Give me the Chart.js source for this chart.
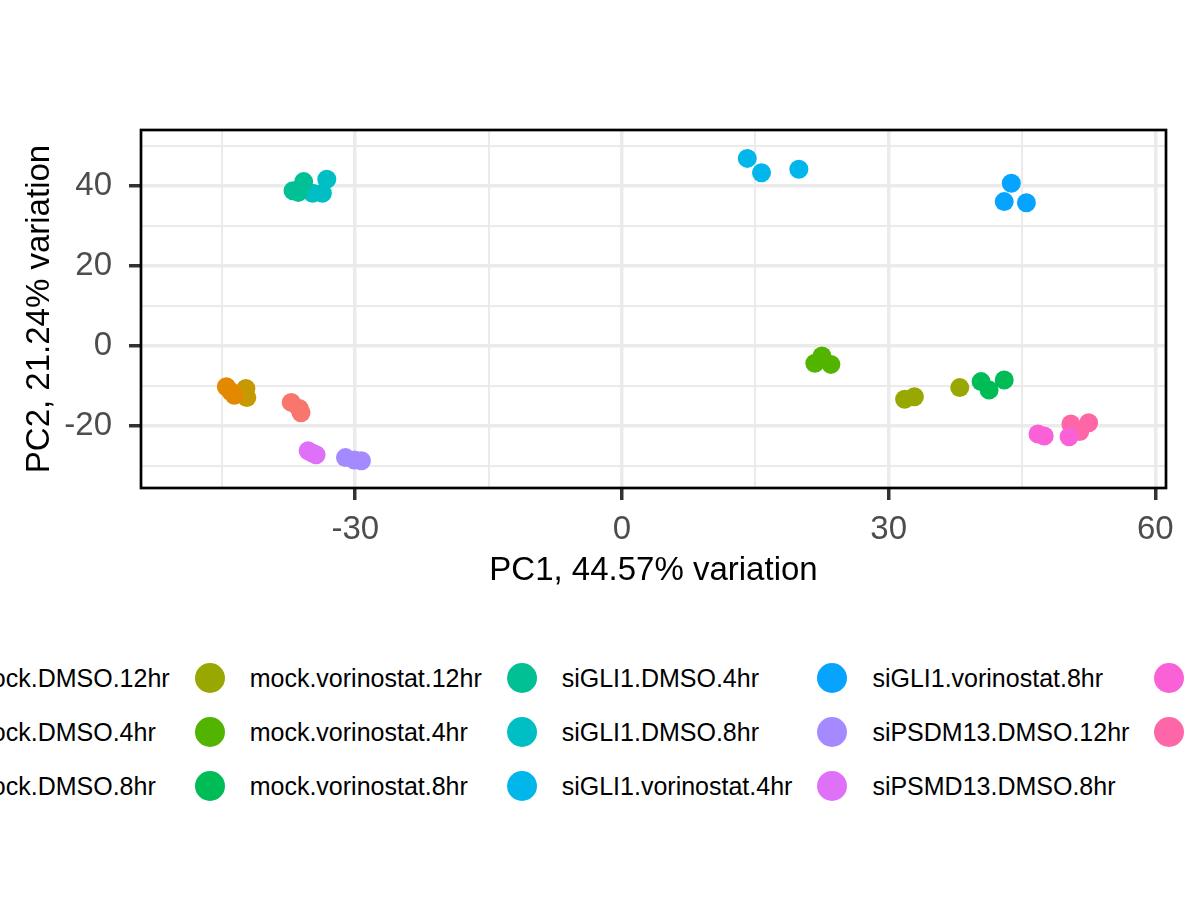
<!DOCTYPE html>
<html>
<head>
<meta charset="utf-8">
<script src="https://cdn.jsdelivr.net/npm/chart.js@4/dist/chart.umd.min.js"></script>
<style>
  html, body { margin: 0; padding: 0; background: #fff; overflow: hidden; width: 1200px; height: 900px; }
  body { position: relative; font-family: "Liberation Sans", Arial, sans-serif; }
  #wrap { position: absolute; left: 0; top: 0; width: 1200px; height: 600px; }
  #legend {
    position: absolute; left: -84px; top: 651px;
    display: grid; grid-template-rows: repeat(3, 54px); grid-auto-flow: column;
    grid-auto-columns: max-content; column-gap: 25px; white-space: nowrap;
  }
  .item { display: flex; align-items: center; font-size: 25px; color: #000; }
  .dot { width: 30px; height: 30px; border-radius: 50%; margin-right: 25px; flex: none; }
</style>
</head>
<body>
<div id="wrap"><canvas id="chart" width="1200" height="600"></canvas></div>
<div id="legend"></div>
<script>
// groups (alphabetical, as in the legend)
var groups = [
  "mock.DMSO.12hr", "mock.DMSO.4hr", "mock.DMSO.8hr",
  "mock.vorinostat.12hr", "mock.vorinostat.4hr", "mock.vorinostat.8hr",
  "siGLI1.DMSO.4hr", "siGLI1.DMSO.8hr", "siGLI1.vorinostat.4hr",
  "siGLI1.vorinostat.8hr", "siPSDM13.DMSO.12hr", "siPSMD13.DMSO.8hr",
  "siPSMD13.vorinostat.12hr", "siPSMD13.vorinostat.8hr"
];
var colours = [
  "#F8766D", "#E38900", "#C49A00", "#99A800", "#53B400", "#00BC56", "#00C094",
  "#00BFC4", "#00B6EB", "#06A4FF", "#A58AFF", "#DF70F8", "#FB61D7", "#FF66A8"
];
// PC1 / PC2 scores, one small list per group
var pc1 = [
  [-37.2, -36.3, -36.1],
  [-44.5, -44.0, -43.6],
  [-42.3, -42.8, -42.2],
  [31.8, 32.9, 38.0],
  [22.5, 21.7, 23.5],
  [40.4, 41.3, 43.0],
  [-37.0, -36.4, -35.8],
  [-33.2, -34.8, -33.7],
  [14.1, 15.7, 19.9],
  [43.8, 43.0, 45.5],
  [-31.1, -30.1, -29.3],
  [-35.3, -34.8, -34.4],
  [46.8, 47.5, 50.3],
  [50.5, 51.5, 52.5]
];
var pc2 = [
  [-14.1, -15.6, -16.7],
  [-10.2, -11.4, -12.3],
  [-10.6, -11.8, -12.9],
  [-13.3, -12.7, -10.4],
  [-2.5, -4.3, -4.6],
  [-8.9, -11.0, -8.5],
  [38.8, 38.4, 41.1],
  [41.7, 38.2, 38.2],
  [46.9, 43.3, 44.2],
  [40.7, 36.1, 35.8],
  [-27.9, -28.5, -28.7],
  [-26.2, -26.8, -27.2],
  [-22.0, -22.5, -22.7],
  [-19.5, -21.4, -19.2]
];
var xTitle = "PC1, 44.57% variation";
var yTitle = "PC2, 21.24% variation";

var FONT = '"Liberation Sans", Arial, sans-serif';

var datasets = groups.map(function(g, i){
  return {
    label: g,
    data: pc1[i].map(function(x, j){ return {x: x, y: pc2[i][j]}; }),
    backgroundColor: colours[i],
    borderWidth: 0,
    pointRadius: 9.5,
    pointHoverRadius: 9.5
  };
});

function isMajor(v, step){ return Math.abs(v % step) < 1e-9; }

function gridOpts(step){
  return {
    color: "#EBEBEB",
    lineWidth: function(c){ return c.tick && isMajor(c.tick.value, step) ? 3.5 : 2; },
    drawTicks: true,
    tickLength: 12,
    tickWidth: 3.5,
    tickColor: function(c){ return c.tick && isMajor(c.tick.value, step) ? "#333333" : "rgba(0,0,0,0)"; }
  };
}

var panelBorder = {
  id: "panelBorder",
  afterDraw: function(chart){
    var a = chart.chartArea, ctx = chart.ctx;
    ctx.save();
    ctx.strokeStyle = "#000";
    ctx.lineWidth = 2.7;
    ctx.strokeRect(a.left, a.top, a.right - a.left, a.bottom - a.top);
    ctx.restore();
  }
};

var canvas = document.getElementById('chart').getContext('2d');
window.pca = new Chart(canvas, {
  type: "scatter",
  data: { datasets: datasets },
  options: {
    responsive: false,
    animation: false,
    layout: { padding: { top: 130, right: 34, left: 0, bottom: 0 } },
    plugins: { legend: { display: false }, tooltip: { enabled: false } },
    scales: {
      x: {
        type: "linear", min: -54.1, max: 61.2,
        grid: gridOpts(30),
        border: { display: false },
        ticks: {
          stepSize: 15, includeBounds: false, autoSkip: false, maxRotation: 0,
          padding: 10, color: "#4D4D4D", font: { family: FONT, size: 33 },
          callback: function(v){ return isMajor(v, 30) ? String(v) : ""; }
        },
        title: { display: true, text: xTitle, color: "#000", font: { family: FONT, size: 33 }, padding: { top: 0, bottom: 9 } },
        afterFit: function(s){ s.height = 112; }
      },
      y: {
        type: "linear", min: -35.5, max: 54,
        grid: gridOpts(20),
        border: { display: false },
        ticks: {
          stepSize: 10, includeBounds: false, autoSkip: false,
          padding: 17, color: "#4D4D4D", font: { family: FONT, size: 33 },
          callback: function(v){ return isMajor(v, 20) ? String(v) : ""; }
        },
        title: { display: true, text: yTitle, color: "#000", font: { family: FONT, size: 33 }, padding: { top: 20, bottom: 0 } },
        afterFit: function(s){ s.width = 141; }
      }
    }
  },
  plugins: [panelBorder]
});

// legend: 3 rows, filled column by column
var legend = document.getElementById('legend');
groups.forEach(function(g, i){
  var item = document.createElement('div');
  item.className = 'item';
  var dot = document.createElement('span');
  dot.className = 'dot';
  dot.style.background = colours[i];
  var txt = document.createElement('span');
  txt.textContent = g;
  item.appendChild(dot);
  item.appendChild(txt);
  legend.appendChild(item);
});
</script>
</body>
</html>
